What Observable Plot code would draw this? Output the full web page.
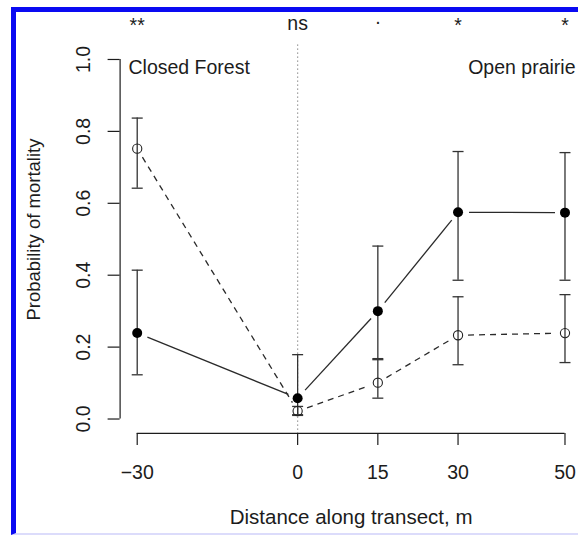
<!DOCTYPE html>
<html><head><meta charset="utf-8">
<script src="https://cdn.jsdelivr.net/npm/d3@7"></script>
<script src="https://cdn.jsdelivr.net/npm/@observablehq/plot@0.6"></script>
<style>
html,body{margin:0;padding:0;background:#fff;}
#wrap{position:relative;width:578px;height:535px;overflow:hidden;background:#fff;}
#frame{position:absolute;left:11px;top:7px;width:620px;height:528px;box-sizing:border-box;border-left:5px solid #0a0af2;border-top:5.5px solid #0a0af2;border-bottom:2px solid #dcdcfb;}
#chart{position:absolute;left:0;top:0;}
</style></head><body>
<div id="wrap"><div id="frame"></div><div id="chart"></div></div>
<script>
// Data
const distances = [-30, 0, 15, 30, 50];
const filledMean  = [0.239, 0.058, 0.300, 0.575, 0.574];
const filledLower = [0.123, 0.012, 0.165, 0.386, 0.386];
const filledUpper = [0.414, 0.179, 0.481, 0.744, 0.741];
const openMean  = [0.752, 0.022, 0.101, 0.233, 0.239];
const openLower = [0.642, 0.010, 0.058, 0.151, 0.157];
const openUpper = [0.837, 0.035, 0.168, 0.340, 0.346];
const significance = ["**", "ns", ".", "*", "*"];
const yTicks = [0, 0.2, 0.4, 0.6, 0.8, 1.0];
const leftLabel = "Closed Forest";
const rightLabel = "Open prairie";
const xTitle = "Distance along transect, m";
const yTitle = "Probability of mortality";

// R-style 4% axis extension
const xMin = d3.min(distances), xMax = d3.max(distances);
const yMin = d3.min(yTicks), yMax = d3.max(yTicks);
const xExt = 0.04 * (xMax - xMin), yExt = 0.04 * (yMax - yMin);
const xDomain = [xMin - xExt, xMax + xExt];
const yDomain = [yMin - yExt, yMax + yExt];

const rows = (m, lo, hi) => distances.map((x, i) => ({x, mean: m[i], lo: lo[i], hi: hi[i]}));
const filledRows = rows(filledMean, filledLower, filledUpper);
const openRows = rows(openMean, openLower, openUpper);
const segs = (r) => r.slice(1).map((d, i) => ({x1: r[i].x, y1: r[i].mean, x2: d.x, y2: d.mean}));
const caps = (r) => r.flatMap(d => [{x: d.x, y: d.lo}, {x: d.x, y: d.hi}]);
const sigRows = distances.map((x, i) => ({x, label: significance[i]}));

const capSymbol = {
  draw(context, size) {
    const w = Math.sqrt(size / Math.PI);
    context.moveTo(-w, 0);
    context.lineTo(w, 0);
  }
};

const ink = "#1c1c1c";
const fs = 19.5;

const chart = Plot.plot({
  width: 578,
  height: 535,
  marginLeft: 119.6,
  marginRight: -3.6,
  marginTop: 44.6,
  marginBottom: 102.1,
  style: {fontFamily: "'Liberation Sans', Arial, sans-serif", background: "transparent", color: ink},
  x: {domain: xDomain},
  y: {domain: yDomain},
  marks: [
    Plot.ruleX([0], {stroke: "#8a8a8a", strokeWidth: 1.2, strokeDasharray: "1.2,2.8"}),
    // axes
    Plot.ruleY([yDomain[0]], {x1: xMin, x2: xMax, stroke: ink, strokeWidth: 1.2}),
    Plot.ruleX([xDomain[0]], {y1: yMin, y2: yMax, stroke: ink, strokeWidth: 1.2}),
    Plot.axisX(distances, {tickSize: 12, tickPadding: 19.6, fontSize: fs, label: null, strokeWidth: 1.2}),
    Plot.axisY(yTicks, {tickSize: 12, tickRotate: -90, tickPadding: 18, tickFormat: d => d.toFixed(1), fontSize: fs, label: null, strokeWidth: 1.2}),
    // connecting lines (type "b" with gaps)
    Plot.arrow(segs(filledRows), {x1: "x1", y1: "y1", x2: "x2", y2: "y2", headLength: 0, insetStart: 11, insetEnd: 10, stroke: "#2a2a2a", strokeWidth: 1.3, strokeLinecap: "butt"}),
    Plot.arrow(segs(openRows), {x1: "x1", y1: "y1", x2: "x2", y2: "y2", headLength: 0, insetStart: 10, insetEnd: 10, stroke: "#2a2a2a", strokeWidth: 1.3, strokeDasharray: "6,5", strokeLinecap: "butt"}),
    // error bars
    Plot.ruleX(filledRows, {x: "x", y1: "lo", y2: "hi", stroke: "#333", strokeWidth: 1.3}),
    Plot.ruleX(openRows, {x: "x", y1: "lo", y2: "hi", stroke: "#333", strokeWidth: 1.3}),
    Plot.dot(caps(filledRows), {x: "x", y: "y", symbol: capSymbol, r: 5.5, stroke: "#333", strokeWidth: 1.3, fill: "none"}),
    Plot.dot(caps(openRows), {x: "x", y: "y", symbol: capSymbol, r: 5.5, stroke: "#333", strokeWidth: 1.3, fill: "none"}),
    // points
    Plot.dot(openRows, {x: "x", y: "mean", r: 4.6, stroke: "#222", strokeWidth: 1.1, fill: "none"}),
    Plot.dot(filledRows, {x: "x", y: "mean", r: 5, fill: "#000", stroke: "none"}),
    // annotations
    Plot.text([leftLabel], {text: d => d, frameAnchor: "top-left", dx: 8.4, dy: 15, textAnchor: "start", fontSize: fs}),
    Plot.text([rightLabel], {text: d => d, frameAnchor: "top-right", dx: -6.6, dy: 15, textAnchor: "end", fontSize: fs}),
    Plot.text(sigRows.filter(d => d.label.includes("*")), {x: "x", text: "label", frameAnchor: "top", dy: -26.7, fontSize: fs}),
    Plot.text(sigRows.filter(d => d.label === "ns"), {x: "x", text: "label", frameAnchor: "top", dy: -28.7, fontSize: fs}),
    Plot.text(sigRows.filter(d => d.label === "."), {x: "x", text: "label", frameAnchor: "top", dy: -34.7, fontSize: fs}),
    Plot.text([yTitle], {text: d => d, frameAnchor: "left", rotate: -90, textAnchor: "middle", dx: -85.6, dy: -9.7, fontSize: 18.5}),
    Plot.text([xTitle], {text: d => d, frameAnchor: "bottom", textAnchor: "middle", dy: 91, fontSize: 20.5})
  ]
});
document.getElementById("chart").appendChild(chart);
</script>
</body></html>
